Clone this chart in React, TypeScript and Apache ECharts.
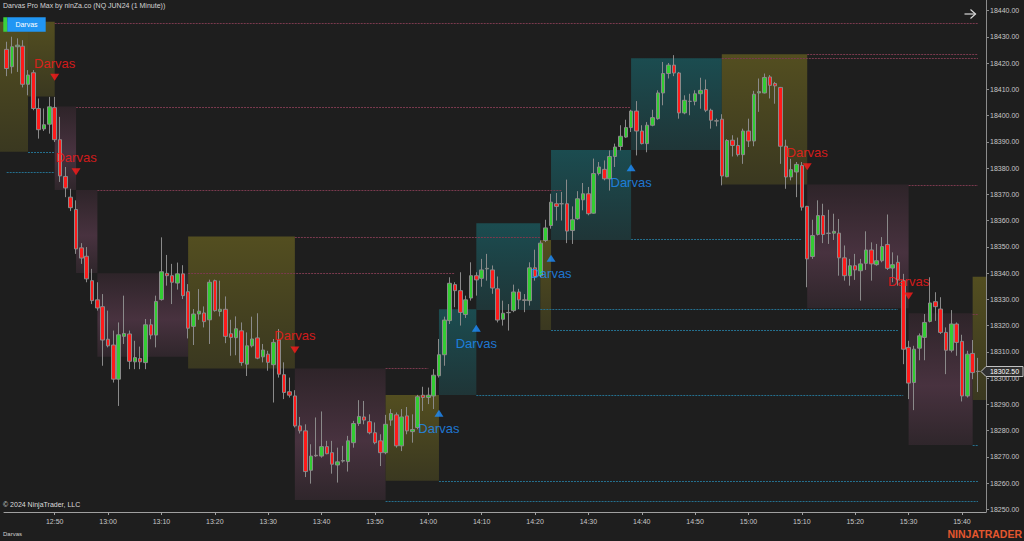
import React, { useEffect, useRef } from "react";
import * as echarts from "echarts";

// ---------- data ----------
const START_MINUTE = 12 * 60 + 41; // first bar 12:41
const SLOT_COUNT = 184; // 183 bars + one empty slot on the right

const opens = [
  18425.2, 18418.6, 18426.2, 18426.4, 18411.9, 18416.3, 18402.7, 18394.9, 18396.7, 18403.0,
  18390.8, 18376.8, 18368.9, 18364.2, 18349.6, 18346.4, 18337.1, 18329.8, 18327.2, 18314.8,
  18312.6, 18299.6, 18315.9, 18316.8, 18306.2, 18307.5, 18305.9, 18320.3, 18316.4, 18329.9,
  18339.9, 18339.0, 18336.2, 18339.7, 18332.9, 18319.7, 18324.4, 18324.8, 18322.2, 18337.1,
  18325.4, 18326.2, 18316.9, 18315.4, 18318.0, 18305.3, 18312.3, 18315.3, 18308.1, 18309.1,
  18305.1, 18314.5, 18301.3, 18294.8, 18293.2, 18281.8, 18279.9, 18264.9, 18270.6, 18270.3,
  18273.9, 18271.6, 18266.9, 18268.4, 18268.2, 18275.4, 18282.7, 18285.2, 18283.4, 18279.2,
  18276.1, 18271.6, 18284.0, 18286.0, 18274.2, 18285.6, 18279.6, 18281.2, 18293.5, 18292.6,
  18293.2, 18300.9, 18308.9, 18321.9, 18335.6, 18333.3, 18324.2, 18330.5, 18339.0, 18338.0,
  18341.6, 18341.2, 18334.0, 18322.4, 18324.9, 18325.7, 18332.8, 18329.8, 18329.5, 18342.0,
  18339.0, 18352.4, 18358.1, 18366.4, 18366.4, 18366.4, 18356.2, 18360.7, 18367.9, 18370.2,
  18362.8, 18377.9, 18379.5, 18375.9, 18384.4, 18388.2, 18391.8, 18395.4, 18401.7, 18394.1,
  18389.3, 18396.3, 18398.8, 18408.6, 18416.0, 18419.2, 18416.2, 18401.0, 18405.4, 18405.4,
  18408.3, 18409.9, 18402.0, 18398.0, 18398.6, 18376.7, 18390.6, 18388.6, 18385.1, 18394.1,
  18390.3, 18408.6, 18408.6, 18414.7, 18412.2, 18410.7, 18388.3, 18376.6, 18378.5, 18381.0,
  18365.4, 18346.3, 18354.7, 18361.9, 18355.2, 18355.2, 18355.2, 18345.8, 18339.0, 18342.8,
  18340.9, 18343.7, 18348.8, 18343.2, 18344.7, 18350.9, 18341.9, 18344.1, 18337.1, 18311.7,
  18298.3, 18311.4, 18315.5, 18321.6, 18329.1, 18326.3, 18317.4, 18310.6, 18320.6, 18314.0,
  18293.2, 18309.4, 18302.6,
];

const closes = [
  18417.9, 18426.2, 18426.8, 18411.9, 18415.4, 18402.7, 18394.6, 18396.5, 18403.3, 18390.8,
  18377.0, 18372.4, 18364.9, 18349.2, 18345.7, 18337.8, 18329.5, 18326.7, 18314.5, 18312.3,
  18299.6, 18316.5, 18317.0, 18306.4, 18307.8, 18306.2, 18320.3, 18316.4, 18329.2, 18340.5,
  18339.0, 18336.5, 18339.7, 18331.4, 18319.0, 18324.4, 18325.5, 18321.5, 18336.5, 18325.7,
  18326.2, 18315.9, 18315.5, 18318.8, 18305.9, 18312.3, 18314.9, 18307.6, 18310.7, 18306.0,
  18313.6, 18301.5, 18294.5, 18293.5, 18281.8, 18279.9, 18264.4, 18270.3, 18270.4, 18273.9,
  18271.2, 18267.2, 18268.1, 18268.6, 18276.1, 18282.7, 18285.4, 18284.0, 18279.2, 18275.4,
  18271.6, 18282.4, 18286.5, 18274.2, 18285.2, 18279.9, 18280.4, 18292.9, 18292.6, 18293.5,
  18301.1, 18308.9, 18322.1, 18336.1, 18333.3, 18325.0, 18329.8, 18339.0, 18337.4, 18341.2,
  18341.8, 18334.3, 18322.1, 18324.7, 18325.0, 18332.8, 18329.8, 18329.6, 18342.0, 18338.7,
  18351.4, 18357.2, 18367.0, 18365.4, 18366.4, 18356.0, 18360.3, 18368.3, 18370.2, 18362.6,
  18377.9, 18380.4, 18375.9, 18384.4, 18388.0, 18392.1, 18395.4, 18401.7, 18394.1, 18389.3,
  18396.3, 18399.2, 18408.6, 18416.0, 18419.2, 18416.2, 18401.0, 18405.8, 18405.4, 18408.3,
  18409.6, 18402.0, 18398.2, 18397.9, 18377.0, 18390.5, 18388.6, 18385.1, 18394.1, 18390.3,
  18408.1, 18409.1, 18414.5, 18411.5, 18411.3, 18388.3, 18376.6, 18379.4, 18381.4, 18365.1,
  18345.4, 18354.3, 18361.9, 18354.7, 18355.1, 18355.9, 18345.8, 18339.0, 18342.8, 18341.2,
  18343.5, 18348.8, 18343.5, 18344.7, 18350.1, 18341.8, 18343.2, 18337.4, 18311.0, 18298.1,
  18311.0, 18316.1, 18321.2, 18328.6, 18327.2, 18317.4, 18310.6, 18320.6, 18313.6, 18293.2,
  18309.1, 18302.1, 18302.5,
];

const lows = [
  18415.0, 18416.0, 18416.6, 18410.7, 18407.7, 18402.0, 18391.2, 18394.1, 18393.1, 18389.9,
  18374.7, 18368.9, 18363.6, 18347.3, 18343.5, 18336.5, 18328.2, 18325.7, 18304.7, 18311.7,
  18298.3, 18289.4, 18313.0, 18303.4, 18303.4, 18303.4, 18303.4, 18314.8, 18311.7, 18329.5,
  18335.2, 18328.2, 18333.7, 18330.1, 18315.1, 18312.6, 18322.2, 18319.3, 18313.0, 18325.3,
  18323.5, 18313.3, 18308.5, 18308.7, 18304.7, 18300.8, 18311.7, 18307.2, 18306.0, 18302.8,
  18290.7, 18300.2, 18292.0, 18292.6, 18281.2, 18278.9, 18262.3, 18259.8, 18270.0, 18269.7,
  18271.0, 18263.6, 18260.2, 18267.8, 18264.4, 18273.5, 18281.8, 18282.4, 18278.6, 18274.8,
  18266.5, 18271.0, 18281.8, 18273.5, 18272.2, 18278.6, 18275.4, 18280.5, 18287.5, 18290.1,
  18288.2, 18300.2, 18304.7, 18320.6, 18327.0, 18320.0, 18322.9, 18329.5, 18331.4, 18334.8,
  18337.1, 18332.1, 18321.2, 18320.0, 18318.1, 18325.1, 18326.3, 18325.1, 18327.6, 18337.1,
  18338.4, 18351.8, 18356.9, 18360.0, 18360.0, 18351.4, 18351.1, 18360.3, 18363.9, 18362.0,
  18362.6, 18377.2, 18375.3, 18371.4, 18380.4, 18386.7, 18391.5, 18393.7, 18384.8, 18389.0,
  18386.0, 18395.9, 18398.4, 18403.9, 18414.1, 18415.0, 18398.8, 18400.5, 18400.1, 18403.9,
  18402.6, 18401.3, 18395.0, 18395.9, 18373.4, 18376.5, 18384.4, 18384.4, 18381.6, 18388.0,
  18388.3, 18401.4, 18408.4, 18406.5, 18404.5, 18381.6, 18372.1, 18375.3, 18368.9, 18363.8,
  18334.6, 18345.4, 18354.3, 18351.4, 18351.1, 18352.6, 18339.0, 18337.1, 18335.2, 18337.4,
  18329.5, 18341.2, 18337.1, 18342.8, 18344.1, 18341.2, 18336.5, 18335.2, 18305.3, 18292.0,
  18287.8, 18306.8, 18306.8, 18321.2, 18321.8, 18316.8, 18301.5, 18309.8, 18308.5, 18291.1,
  18292.6, 18299.6, 18294.7,
];

const highs = [
  18428.1, 18430.0, 18429.4, 18428.7, 18417.3, 18417.3, 18406.5, 18402.7, 18407.1, 18407.1,
  18399.5, 18380.4, 18372.1, 18367.7, 18351.4, 18349.9, 18341.6, 18336.5, 18332.0, 18325.7,
  18318.1, 18321.2, 18331.4, 18318.1, 18314.2, 18312.0, 18322.5, 18322.5, 18331.4, 18353.6,
  18346.9, 18343.5, 18344.0, 18343.0, 18335.8, 18326.3, 18333.9, 18327.3, 18337.5, 18337.5,
  18337.1, 18331.1, 18322.2, 18323.5, 18321.2, 18317.4, 18323.4, 18324.7, 18313.0, 18310.4,
  18314.9, 18318.7, 18306.0, 18300.2, 18295.4, 18285.2, 18282.4, 18274.8, 18285.0, 18287.3,
  18276.1, 18276.1, 18273.5, 18274.2, 18278.0, 18283.7, 18291.6, 18291.3, 18286.2, 18283.1,
  18278.6, 18286.0, 18288.2, 18286.9, 18288.2, 18289.0, 18286.2, 18293.6, 18296.7, 18296.4,
  18303.4, 18314.9, 18323.4, 18338.4, 18336.5, 18340.3, 18331.4, 18344.1, 18340.3, 18345.4,
  18347.3, 18342.9, 18338.7, 18329.5, 18328.2, 18335.6, 18334.0, 18332.0, 18344.1, 18348.9,
  18352.4, 18360.3, 18370.2, 18370.5, 18370.9, 18375.6, 18365.4, 18371.2, 18374.3, 18372.8,
  18383.6, 18382.3, 18382.9, 18386.7, 18389.3, 18396.3, 18398.4, 18402.2, 18405.5, 18396.3,
  18397.5, 18402.2, 18409.6, 18420.4, 18420.0, 18423.0, 18416.6, 18407.7, 18408.3, 18409.6,
  18414.4, 18413.7, 18402.6, 18398.8, 18400.5, 18391.0, 18392.5, 18391.6, 18395.0, 18398.8,
  18409.4, 18414.1, 18416.0, 18415.4, 18412.8, 18410.9, 18390.8, 18383.5, 18382.3, 18382.3,
  18365.6, 18360.3, 18367.7, 18366.4, 18364.1, 18362.6, 18360.6, 18350.5, 18345.4, 18347.3,
  18345.4, 18355.9, 18351.7, 18351.1, 18353.7, 18362.3, 18347.9, 18346.7, 18339.7, 18314.2,
  18312.3, 18317.0, 18324.4, 18338.4, 18332.7, 18330.8, 18319.3, 18325.9, 18321.2, 18316.5,
  18310.4, 18314.5, 18307.7,
];

const timeTicks = [
  "12:50", "13:00", "13:10", "13:20", "13:30", "13:40", "13:50", "14:00", "14:10",
  "14:20", "14:30", "14:40", "14:50", "15:00", "15:10", "15:20", "15:30", "15:40",
];
const priceTicks = [
  18250, 18260, 18270, 18280, 18290, 18300, 18310, 18320, 18330, 18340,
  18350, 18360, 18370, 18380, 18390, 18400, 18410, 18420, 18430, 18440,
];
const PRICE_MIN = 18249;
const PRICE_MAX = 18444;
const lastPrice = 18302.5;

// Darvas boxes (bar index range, top / bottom price, kind)
const boxStart = [-1.26, 4, 9, 13, 17, 34, 54, 71, 81, 88, 100, 102, 117, 134, 150, 169, 181];
const boxEnd = [4, 9, 13, 17, 34, 54, 71, 81, 88, 100, 102, 117, 134, 150, 169, 181, 183.5];
const boxTop = [
  18435.7, 18435.7, 18403.4, 18371.6, 18339.9, 18353.9, 18303.7, 18293.6, 18326.2,
  18359.0, 18352.6, 18386.9, 18421.8, 18423.3, 18373.7, 18324.7, 18338.6,
];
const boxBottom = [
  18386.2, 18407.2, 18371.6, 18340.0, 18308.1, 18303.7, 18253.6, 18260.9, 18293.6,
  18325.9, 18318.3, 18352.6, 18386.9, 18373.7, 18326.6, 18274.5, 18291.7,
];
const boxKind = [
  "olive", "olive", "mauve", "mauve", "mauve", "olive", "mauve", "olive", "teal",
  "teal", "olive", "teal", "teal", "olive", "mauve", "mauve", "olive",
];

// extended box levels
const levelStart = [9, 150, 134, 13, 169, 17, 54, 34, 71, 181, 0, 4, 117, 100, 102, 88, 81, 71, 181];
const levelEnd = [182, 182, 182, 117, 182, 104, 100, 84, 79, 182, 9, 9, 149, 167, 167, 168, 182, 182, 182];
const levelPrice = [
  18435.4, 18423.3, 18422.0, 18403.4, 18373.7, 18371.6, 18353.9, 18339.9, 18303.7, 18324.4,
  18378.6, 18386.2, 18352.9, 18326.4, 18318.3, 18293.6, 18260.8, 18253.3, 18274.5,
];
const levelKind = [
  "res", "res", "res", "res", "res", "res", "res", "res", "res", "res",
  "sup", "sup", "sup", "sup", "sup", "sup", "sup", "sup", "sup",
];

// signals
const sellIdx = [9, 13, 54, 150, 169];
const sellPrice = [18414.6, 18378.6, 18310.7, 18380.5, 18331.3];
const buyIdx = [81, 88, 102, 117];
const buyPrice = [18286.6, 18319.0, 18345.6, 18380.1];

// ---------- helpers ----------
const pad = (n: number) => (n < 10 ? "0" + n : String(n));
const categories: string[] = [];
for (let i = 0; i < SLOT_COUNT; i++) {
  const m = START_MINUTE + i;
  categories.push(pad(Math.floor(m / 60)) + ":" + pad(m % 60));
}

const FONT = "'Liberation Sans', Arial, sans-serif";

function boxFill(kind: string) {
  if (kind === "olive")
    return new echarts.graphic.LinearGradient(0, 0, 0, 1, [
      { offset: 0, color: "#534e20" },
      { offset: 1, color: "#3a3820" },
    ]);
  if (kind === "teal")
    return new echarts.graphic.LinearGradient(0, 0, 0, 1, [
      { offset: 0, color: "#1b4c50" },
      { offset: 1, color: "#1f3537" },
    ]);
  return new echarts.graphic.LinearGradient(0, 0, 0, 1, [
    { offset: 0, color: "#2e2429" },
    { offset: 0.55, color: "#48323f" },
    { offset: 1, color: "#2f262b" },
  ]);
}

export default function App() {
  const ref = useRef<HTMLDivElement>(null);

  useEffect(() => {
    if (!ref.current) return;
    const chart = echarts.init(ref.current, null, { renderer: "svg" });

    const candles = opens.map((o, i) => [o, closes[i], lows[i], highs[i]]);

    const option: any = {
      animation: false,
      backgroundColor: "#1e1e1e",
      textStyle: { fontFamily: FONT },
      grid: { left: 4, right: 38, top: 0, bottom: 29, containLabel: false },
      xAxis: [
        {
          type: "category",
          data: categories,
          boundaryGap: true,
          axisLine: { show: true, onZero: false, lineStyle: { color: "#a0a0a0", width: 1 } },
          axisTick: {
            show: true,
            alignWithLabel: true,
            length: 3,
            interval: (_i: number, v: string) => timeTicks.indexOf(v) >= 0,
            lineStyle: { color: "#a0a0a0" },
          },
          axisLabel: {
            show: true,
            interval: (_i: number, v: string) => timeTicks.indexOf(v) >= 0,
            color: "#c8c8c8",
            fontSize: 7,
            margin: 6,
            fontFamily: FONT,
          },
          splitLine: { show: false },
        },
        {
          type: "value",
          min: -0.5,
          max: SLOT_COUNT - 0.5,
          show: false,
          axisLine: { onZero: false },
        },
      ],
      yAxis: {
        type: "value",
        position: "right",
        min: PRICE_MIN,
        max: PRICE_MAX,
        scale: true,
        axisLine: { show: true, onZero: false, lineStyle: { color: "#8c8c8c", width: 1 } },
        axisTick: { show: true, length: 3, customValues: priceTicks, lineStyle: { color: "#8c8c8c" } },
        axisLabel: {
          show: true,
          customValues: priceTicks,
          formatter: (v: number) => v.toFixed(2),
          color: "#c8c8c8",
          fontSize: 7,
          margin: 4,
          fontFamily: FONT,
        },
        splitLine: { show: false },
      },
      series: [
        {
          type: "custom",
          name: "boxes",
          xAxisIndex: 1,
          yAxisIndex: 0,
          z: 1,
          silent: true,
          encode: { x: [0, 1], y: [2, 3] },
          data: boxStart.map((s, i) => [s, boxEnd[i], boxTop[i], boxBottom[i], i]),
          renderItem: (_p: any, api: any) => {
            const i = api.value(4);
            const a = api.coord([api.value(0), api.value(2)]);
            const b = api.coord([api.value(1), api.value(3)]);
            return {
              type: "rect",
              shape: { x: a[0], y: a[1], width: b[0] - a[0], height: b[1] - a[1] },
              style: { fill: boxFill(boxKind[i]) },
            };
          },
        },
        {
          type: "custom",
          name: "levels",
          xAxisIndex: 1,
          yAxisIndex: 0,
          z: 2,
          silent: true,
          encode: { x: [0, 1], y: 2 },
          data: levelStart.map((s, i) => [s, levelEnd[i], levelPrice[i], i]),
          renderItem: (_p: any, api: any) => {
            const i = api.value(3);
            const a = api.coord([api.value(0), api.value(2)]);
            const b = api.coord([api.value(1), api.value(2)]);
            const y = Math.round(a[1]) + 0.5;
            return {
              type: "line",
              shape: { x1: a[0], y1: y, x2: b[0], y2: y },
              style: {
                stroke: levelKind[i] === "res" ? "#7a3a4e" : "#25708f",
                lineWidth: 1,
                lineDash: [2, 1],
              },
            };
          },
        },
        {
          type: "candlestick",
          name: "NQ",
          xAxisIndex: 0,
          yAxisIndex: 0,
          z: 3,
          barWidth: 4,
          data: candles,
          itemStyle: {
            color: "#33cc33",
            color0: "#ff1a1a",
            borderColor: "#8a8a8a",
            borderColor0: "#8a8a8a",
            borderWidth: 1,
          },
        },
        {
          type: "scatter",
          name: "sell",
          xAxisIndex: 0,
          yAxisIndex: 0,
          z: 5,
          symbol: "triangle",
          symbolRotate: 180,
          symbolSize: [9, 7],
          itemStyle: { color: "#ff1a1a" },
          data: sellIdx.map((x, i) => [x, sellPrice[i]]),
          label: {
            show: true,
            position: "top",
            distance: 4,
            formatter: "Darvas",
            color: "#ff1a1a",
            fontSize: 13,
            fontFamily: FONT,
          },
        },
        {
          type: "scatter",
          name: "buy",
          xAxisIndex: 0,
          yAxisIndex: 0,
          z: 5,
          symbol: "triangle",
          symbolSize: [9, 7],
          itemStyle: { color: "#1e8fff" },
          data: buyIdx.map((x, i) => [x, buyPrice[i]]),
          label: {
            show: true,
            position: "bottom",
            distance: 5,
            formatter: "Darvas",
            color: "#1e8fff",
            fontSize: 13,
            fontFamily: FONT,
          },
        },
      ],
    };

    chart.setOption(option);

    const py = chart.convertToPixel({ yAxisIndex: 0 }, lastPrice) as number;

    chart.setOption({
      graphic: [
        {
          type: "text",
          x: 3,
          y: 2,
          z: 10,
          style: {
            text: "Darvas Pro Max by ninZa.co (NQ JUN24 (1 Minute))",
            fill: "#d4d4d4",
            fontSize: 7,
            fontFamily: FONT,
          },
        },
        { type: "rect", z: 10, shape: { x: 3.3, y: 17.3, width: 4, height: 14.4 }, style: { fill: "#3ccf3c" } },
        { type: "rect", z: 10, shape: { x: 7.3, y: 17.3, width: 38.4, height: 14.4 }, style: { fill: "#2196f3" } },
        {
          type: "text",
          z: 11,
          x: 26.5,
          y: 24.5,
          style: {
            text: "Darvas",
            fill: "#ffffff",
            fontSize: 7,
            fontFamily: FONT,
            align: "center",
            verticalAlign: "middle",
          },
        },
        {
          type: "polyline",
          z: 10,
          shape: { points: [[964.5, 14], [975.5, 14]] },
          style: { stroke: "#d8d8d8", lineWidth: 1.2, fill: "none" },
        },
        {
          type: "polyline",
          z: 10,
          shape: { points: [[970.5, 9.5], [975.5, 14], [970.5, 18.5]] },
          style: { stroke: "#d8d8d8", lineWidth: 1.2, fill: "none" },
        },
        {
          type: "text",
          z: 10,
          x: 3,
          y: 504,
          style: {
            text: "© 2024 NinjaTrader, LLC",
            fill: "#dcdcdc",
            fontSize: 7,
            fontFamily: FONT,
            verticalAlign: "middle",
          },
        },
        {
          type: "text",
          z: 10,
          x: 3,
          y: 534,
          style: {
            text: "Darvas",
            fill: "#d0d0d0",
            fontSize: 6,
            fontFamily: FONT,
            verticalAlign: "middle",
          },
        },
        {
          type: "text",
          z: 10,
          x: 1022,
          y: 534,
          style: {
            text: "NINJATRADER",
            fill: "#e4572e",
            fontSize: 10.5,
            fontWeight: "bold",
            fontFamily: FONT,
            align: "right",
            verticalAlign: "middle",
          },
        },
        {
          type: "polygon",
          z: 12,
          shape: {
            points: [
              [981, py],
              [986, py - 5],
              [1023, py - 5],
              [1023, py + 5],
              [986, py + 5],
            ],
          },
          style: { fill: "#303030", stroke: "#c4c4c4", lineWidth: 1 },
        },
        {
          type: "text",
          z: 13,
          x: 1004.5,
          y: py,
          style: {
            text: lastPrice.toFixed(2),
            fill: "#ffffff",
            fontSize: 7,
            fontFamily: FONT,
            align: "center",
            verticalAlign: "middle",
          },
        },
      ],
    });

    return () => {
      chart.dispose();
    };
  }, []);

  return (
    <div
      ref={ref}
      style={{
        position: "fixed",
        left: 0,
        top: 0,
        width: 1024,
        height: 541,
        background: "#1e1e1e",
      }}
    />
  );
}
